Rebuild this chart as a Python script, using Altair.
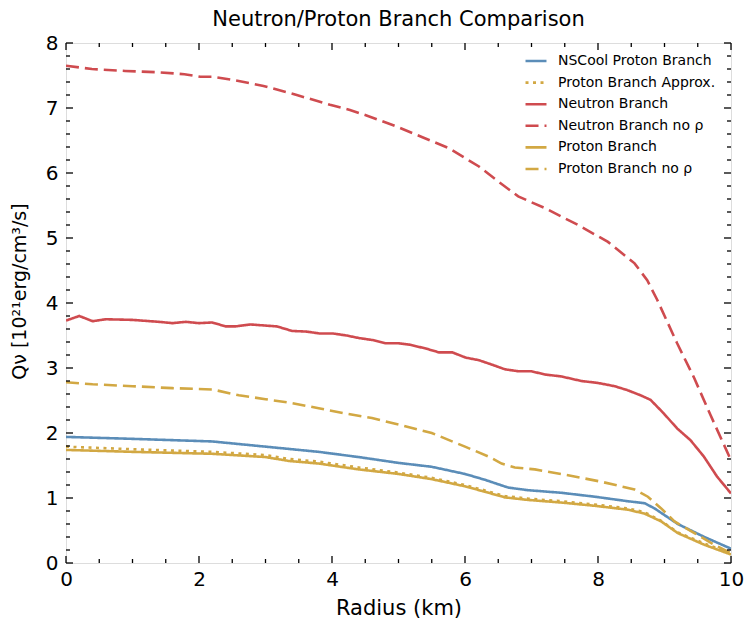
import altair as alt
import pandas as pd

# ---- data ----
nscool_x = [0, 1, 2.2, 3, 3.8, 4.4, 5, 5.5, 6, 6.3, 6.65, 6.95, 7.45, 7.95, 8.45, 8.7, 8.85, 9.2, 9.6, 10]
nscool_y = [1.94, 1.91, 1.87, 1.79, 1.71, 1.63, 1.54, 1.48, 1.37, 1.28, 1.16, 1.12, 1.08, 1.02, 0.95, 0.92, 0.84, 0.60, 0.40, 0.22]

approx_x = [0, 1, 2.2, 3, 3.35, 3.8, 4.4, 5, 5.5, 6, 6.25, 6.6, 6.95, 7.45, 7.95, 8.45, 8.7, 8.95, 9.2, 9.6, 10]
approx_y = [1.79, 1.75, 1.71, 1.66, 1.60, 1.56, 1.47, 1.39, 1.31, 1.20, 1.13, 1.03, 0.99, 0.95, 0.90, 0.84, 0.78, 0.65, 0.47, 0.30, 0.15]

neutron_x = [0, 0.2, 0.4, 0.6, 1.0, 1.4, 1.6, 1.8, 2.0, 2.2, 2.4, 2.55, 2.77, 3.17, 3.4, 3.62, 3.82, 4.02,
             4.22, 4.41, 4.61, 4.81, 5.0, 5.16, 5.41, 5.61, 5.81, 6.01, 6.21, 6.41, 6.6, 6.8, 7.0, 7.2,
             7.45, 7.75, 8.0, 8.25, 8.44, 8.64, 8.79, 8.99, 9.19, 9.39, 9.59, 9.79, 10]
neutron_y = [3.73, 3.80, 3.72, 3.75, 3.74, 3.71, 3.69, 3.71, 3.69, 3.70, 3.64, 3.64, 3.67, 3.64, 3.57, 3.56,
             3.53, 3.53, 3.50, 3.46, 3.43, 3.38, 3.38, 3.36, 3.30, 3.24, 3.24, 3.16, 3.12, 3.05, 2.98, 2.95,
             2.95, 2.90, 2.87, 2.80, 2.77, 2.72, 2.66, 2.58, 2.51, 2.30, 2.07, 1.89, 1.64, 1.33, 1.07]

neutron_norho_x = [0, 0.39, 0.89, 1.38, 1.78, 2.02, 2.22, 2.52, 2.97, 3.47, 3.97, 4.27, 4.56, 4.96, 5.36,
                   5.76, 6.21, 6.5, 6.8, 7.2, 7.7, 8.15, 8.55, 8.74, 8.89, 9.19, 9.44, 9.69, 10]
neutron_norho_y = [7.65, 7.60, 7.57, 7.55, 7.52, 7.48, 7.48, 7.43, 7.34, 7.20, 7.05, 6.97, 6.87, 6.72, 6.55,
                   6.38, 6.10, 5.87, 5.64, 5.46, 5.20, 4.94, 4.61, 4.35, 4.05, 3.38, 2.86, 2.28, 1.58]

proton_x = [0, 1, 2.2, 3, 3.35, 3.8, 4.4, 5, 5.5, 6, 6.25, 6.6, 6.95, 7.45, 7.95, 8.45, 8.7, 8.95, 9.2, 9.6, 10]
proton_y = [1.74, 1.71, 1.68, 1.63, 1.57, 1.53, 1.44, 1.37, 1.29, 1.18, 1.11, 1.01, 0.97, 0.93, 0.88, 0.82, 0.76, 0.64, 0.46, 0.28, 0.13]

proton_norho_x = [0, 0.4, 1, 1.6, 2.2, 2.6, 3, 3.4, 3.8, 4.2, 4.6, 5, 5.5, 6, 6.35, 6.55, 6.75, 7.05, 7.55,
                  8.05, 8.55, 8.75, 8.95, 9.15, 9.45, 9.75, 10]
proton_norho_y = [2.78, 2.75, 2.72, 2.69, 2.67, 2.58, 2.52, 2.46, 2.38, 2.30, 2.23, 2.13, 2.00, 1.79, 1.64,
                  1.53, 1.47, 1.44, 1.35, 1.25, 1.13, 1.02, 0.84, 0.64, 0.46, 0.28, 0.15]

series_names = ["NSCool Proton Branch", "Proton Branch Approx.", "Neutron Branch",
                "Neutron Branch no ρ", "Proton Branch", "Proton Branch no ρ"]
series_colors = ["#5b8db8", "#d2a843", "#cf4b4f", "#cf4b4f", "#d2a843", "#d2a843"]
series_dash = [[1, 0], [3, 4.5], [1, 0], [13, 6], [1, 0], [13, 6]]

xs = [nscool_x, approx_x, neutron_x, neutron_norho_x, proton_x, proton_norho_x]
ys = [nscool_y, approx_y, neutron_y, neutron_norho_y, proton_y, proton_norho_y]

rows = []
for i, (name, xv, yv) in enumerate(zip(series_names, xs, ys)):
    for j, (a, b) in enumerate(zip(xv, yv)):
        rows.append({"series": name, "order": i, "idx": j, "r": a, "q": b})
df = pd.DataFrame(rows)

x_major = [0, 2, 4, 6, 8, 10]
x_minor = [0.5, 1, 1.5, 2.5, 3, 3.5, 4.5, 5, 5.5, 6.5, 7, 7.5, 8.5, 9, 9.5]
y_major = [0, 1, 2, 3, 4, 5, 6, 7, 8]
y_minor = [v / 10 for v in range(2, 80, 2) if v % 10 != 0]

W, H = 665, 520
FONT = "DejaVu Sans"

xscale = alt.Scale(domain=[0, 10], nice=False, zero=False)
yscale = alt.Scale(domain=[0, 8], nice=False, zero=False)

legend_kw = dict(title=None, orient="none", legendX=458, legendY=6,
                 symbolType="stroke", symbolSize=440, symbolStrokeWidth=2.6,
                 labelFontSize=14, labelFont=FONT, labelColor="black",
                 rowPadding=2.6, labelOffset=10, labelLimit=300)

lines = alt.Chart(df).mark_line(strokeWidth=2.6, clip=True).encode(
    x=alt.X("r:Q", scale=xscale,
            axis=alt.Axis(title="Radius (km)", values=x_major, format="d", domain=False, ticks=False,
                          grid=False, labelFontSize=20, titleFontSize=21, labelPadding=6,
                          labelFlush=False, titlePadding=8, labelFont=FONT, titleFont=FONT,
                          titleFontWeight="normal", labelColor="black", titleColor="black")),
    y=alt.Y("q:Q", scale=yscale,
            axis=alt.Axis(title="Qν [10²¹erg/cm³/s]", values=y_major, format="d", domain=False,
                          ticks=False, grid=False, labelFontSize=20, titleFontSize=19, labelPadding=8,
                          labelFlush=False, titleX=-37, titleY=248, titleAlign="center",
                          titleBaseline="bottom", titleAngle=270,
                          labelFont=FONT, titleFont=FONT, titleFontWeight="normal",
                          labelColor="black", titleColor="black")),
    color=alt.Color("series:N", sort=series_names,
                    scale=alt.Scale(domain=series_names, range=series_colors),
                    legend=alt.Legend(**legend_kw)),
    strokeDash=alt.StrokeDash("series:N", sort=series_names,
                              scale=alt.Scale(domain=series_names, range=series_dash),
                              legend=alt.Legend(**legend_kw)),
    detail="series:N",
    order="idx:Q",
)


def xticks(vals, length):
    d = pd.DataFrame({"v": vals})
    bottom = alt.Chart(d).mark_rule(color="black", strokeWidth=1.3).encode(
        x=alt.X("v:Q", scale=xscale), y=alt.value(H), y2=alt.value(H - length))
    top = alt.Chart(d).mark_rule(color="black", strokeWidth=1.3).encode(
        x=alt.X("v:Q", scale=xscale), y=alt.value(0), y2=alt.value(length))
    return [bottom, top]


def yticks(vals, length):
    d = pd.DataFrame({"v": vals})
    left = alt.Chart(d).mark_rule(color="black", strokeWidth=1.3).encode(
        y=alt.Y("v:Q", scale=yscale), x=alt.value(0), x2=alt.value(length))
    right = alt.Chart(d).mark_rule(color="black", strokeWidth=1.3).encode(
        y=alt.Y("v:Q", scale=yscale), x=alt.value(W), x2=alt.value(W - length))
    return [left, right]


tick_layers = xticks(x_major, 7) + xticks(x_minor, 4) + yticks(y_major, 7) + yticks(y_minor, 4)

chart = alt.layer(lines, *tick_layers).properties(
    width=W, height=H,
    title=alt.TitleParams("Neutron/Proton Branch Comparison", fontSize=21, font=FONT,
                          fontWeight="normal", color="black", offset=3),
    autosize=alt.AutoSizeParams(type="none"),
    padding={"left": 58, "top": 35, "right": 14, "bottom": 58},
).configure_view(stroke="black", strokeWidth=1.8).configure(background="white")

chart.save("out.html", embed_options={"renderer": "svg", "actions": False})
